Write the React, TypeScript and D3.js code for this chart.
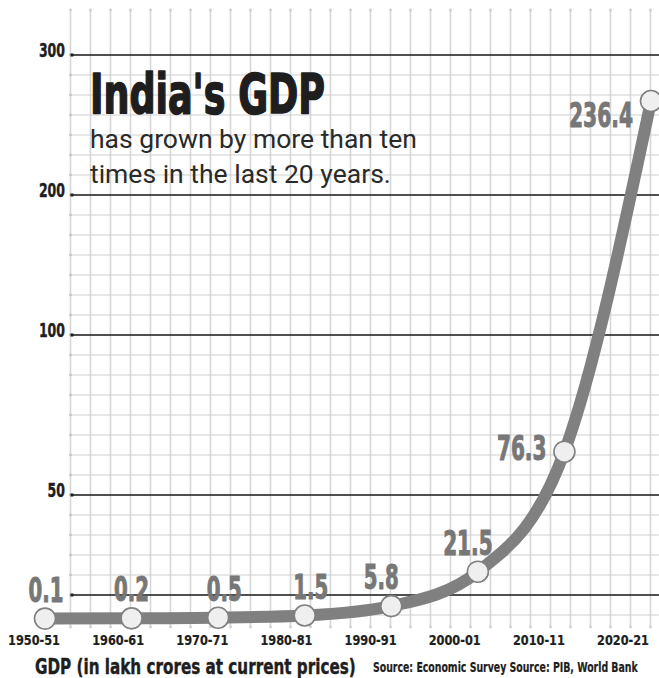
import React, { useLayoutEffect, useRef, useState } from "react";
import * as d3 from "d3";

const categories = ["1950-51", "1960-61", "1970-71", "1980-81", "1990-91", "2000-01", "2010-11", "2020-21"];
const gdpValues = [0.1, 0.2, 0.5, 1.5, 5.8, 21.5, 76.3, 236.4];
const gdpLabels = ["0.1", "0.2", "0.5", "1.5", "5.8", "21.5", "76.3", "236.4"];
const yTickValues = [0, 50, 100, 200, 300];
const titleText = "India's GDP";
const subtitleLines = ["has grown by more than ten", "times in the last 20 years."];
const axisTitle = "GDP (in lakh crores at current prices)";
const sourceText = "Source: Economic Survey Source: PIB, World Bank";

const W = 659;
const H = 678;
const COND = "'DejaVu Sans Condensed', 'Liberation Sans Narrow', sans-serif";

type FitProps = {
  x: number;
  y: number;
  width: number;
  anchor?: "start" | "middle" | "end";
  size: number;
  fill: string;
  stroke?: number;
  text: string;
};

function FitText({ x, y, width, anchor = "start", size, fill, stroke = 0, text }: FitProps) {
  const ref = useRef<SVGTextElement>(null);
  const [s, setS] = useState(1);
  useLayoutEffect(() => {
    if (ref.current) {
      const w = ref.current.getComputedTextLength();
      if (w > 0) setS(width / w);
    }
  }, [text, width, size]);
  return (
    <text
      ref={ref}
      transform={`translate(${x},${y}) scale(${s},1)`}
      textAnchor={anchor}
      fontFamily={COND}
      fontWeight="bold"
      fontSize={size}
      fill={fill}
      stroke={stroke ? fill : "none"}
      strokeWidth={stroke}
      strokeLinejoin="round"
    >
      {text}
    </text>
  );
}

export default function App() {
  // point positions of the line
  const x = d3.scalePoint<string>().domain(categories).range([45, 651]);
  // category label positions
  const xLab = d3.scalePoint<string>().domain(categories).range([34, 623]);
  // data value scale
  const y = d3.scaleLinear().domain([0, 236.4]).range([618.8, 101]);
  // decorative axis tick scale (as drawn in the infographic)
  const yTick = d3.scaleLinear().domain([0, 50, 100, 200, 300]).range([595, 495, 335, 195, 55]);
  // grid scales
  const gx = d3.scaleLinear().domain([0, 29]).range([70.5, 650.5]);
  const gy = d3.scaleLinear().domain([0, 28]).range([55, 615]);

  const line = d3
    .line<number>()
    .x((_, i) => x(categories[i]) as number)
    .y((d) => y(d))
    .curve(d3.curveMonotoneX);

  const labelWidth = (s: string) => s.replace(".", "").length * 14.5 + (s.includes(".") ? 6 : 0);

  return (
    <svg width={W} height={H} style={{ position: "absolute", left: 0, top: 0, background: "#fff" }}>
      <rect x={0} y={0} width={W} height={H} fill="#fff" />
      {/* vertical grid */}
      {d3.range(0, 30).map((k) => (
        <g key={"v" + k}>
          <line x1={gx(k)} x2={gx(k)} y1={10} y2={627} stroke="#d6d6d6" strokeWidth={1.6} />
          <circle cx={gx(k)} cy={10} r={1.4} fill="#cfcfcf" />
          <circle cx={gx(k)} cy={627} r={1.4} fill="#cfcfcf" />
        </g>
      ))}
      {/* horizontal grid */}
      {d3.range(0, 29).map((j) => (
        <g key={"h" + j}>
          <line x1={70} x2={W} y1={gy(j)} y2={gy(j)} stroke="#cfcfcf" strokeWidth={1.2} />
          <circle cx={70.5} cy={gy(j)} r={1.4} fill="#c4c4c4" />
        </g>
      ))}
      {/* major lines */}
      {yTickValues.map((t) => (
        <g key={"t" + t}>
          <line x1={72} x2={W} y1={yTick(t)} y2={yTick(t)} stroke="#1e1e1e" strokeWidth={1.4} />
          <rect x={70.5} y={yTick(t) - 1.5} width={3} height={3} fill="#1e1e1e" />
          {t > 0 && (
            <FitText x={65} y={yTick(t) + 2} anchor="end" size={19} fill="#1e1e1e" stroke={0.4}
              width={String(t).length * 8.7} text={String(t)} />
          )}
        </g>
      ))}
      {/* title */}
      <FitText x={90} y={113} size={56} fill="#1e1e1e" stroke={1.6} width={235} text={titleText} />
      {subtitleLines.map((s, i) => (
        <text key={s} x={90} y={148 + i * 35} fontFamily="Roboto, sans-serif" fontSize={26.5} fill="#2a2a2a">
          {s}
        </text>
      ))}
      {/* line */}
      <path d={line(gdpValues) || ""} fill="none" stroke="#808080" strokeWidth={12} strokeLinecap="round" strokeLinejoin="round" />
      {gdpValues.map((v, i) => (
        <circle key={"c" + i} cx={x(categories[i])} cy={y(v)} r={10.5} fill="#efefef" stroke="#808080" strokeWidth={1.6} />
      ))}
      {/* value labels */}
      {gdpValues.map((v, i) => {
        const px = x(categories[i]) as number;
        const py = y(v);
        const side = i >= 6;
        const shift = i === 0 ? 1 : i === 2 || i === 3 ? 6 : i >= 4 ? -10 : 0;
        return (
          <FitText
            key={"l" + i}
            x={side ? px - 18 : px + shift}
            y={side ? py + (i === 6 ? 8 : 26) : py - 17}
            anchor={side ? "end" : "middle"}
            size={34}
            fill="#777777"
            stroke={1}
            width={labelWidth(gdpLabels[i])}
            text={gdpLabels[i]}
          />
        );
      })}
      {/* x labels */}
      {categories.map((c) => (
        <FitText key={"x" + c} x={xLab(c) as number} y={645} anchor="middle" size={14} fill="#1e1e1e" stroke={0.2} width={52} text={c} />
      ))}
      <FitText x={35} y={674} size={21} fill="#1e1e1e" stroke={0.4} width={321} text={axisTitle} />
      <FitText x={373} y={672} size={14} fill="#1e1e1e" stroke={0.2} width={265} text={sourceText} />
    </svg>
  );
}
